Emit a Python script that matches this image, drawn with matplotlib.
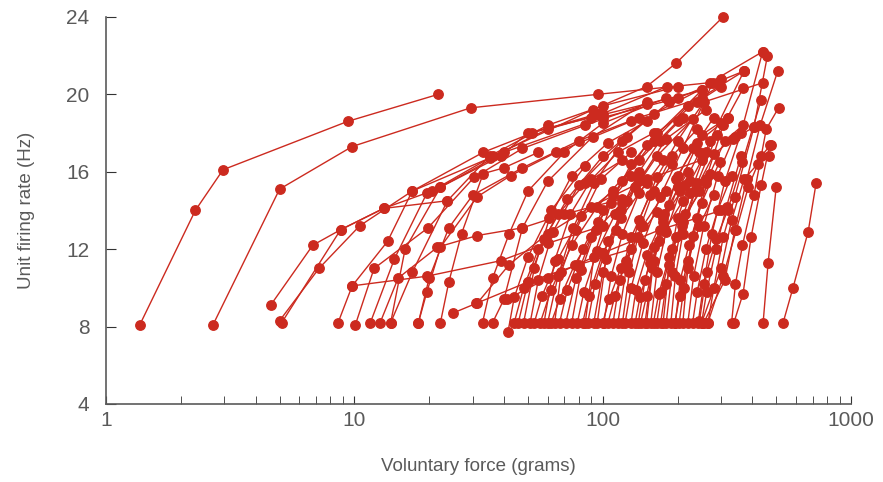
import matplotlib
matplotlib.use('Agg')
import matplotlib.pyplot as plt
from matplotlib.ticker import LogLocator, NullFormatter

# each motor unit: voluntary force (g) at each recorded point, and its firing rate (Hz)
forces = [
    [1.37, 2.29, 2.96, 9.4, 21.8],
    [2.7, 5.0, 9.8, 29.4, 96, 270, 440],
    [4.6, 6.8, 8.8, 13.1, 23.7],
    [5.0, 7.2, 10.5, 17.1, 33, 52, 96],
    [5.1, 8.8, 13.1, 20.5, 36, 91, 150, 197, 305],
    [8.6, 9.8, 13.6, 17.1, 35, 60, 100, 181],
    [10.1, 12.0, 19.8, 30.3, 47.5, 85, 150],
    [11.6, 14.5, 19.6, 22.2, 38.8, 50, 90, 250],
    [12.7, 15.0, 21.6, 31.2, 47.5, 70, 120],
    [14.0, 17.1, 23.7, 35, 60, 100, 200],
    [9.8, 19.6, 38.8, 60, 100],
    [18.1, 19.6, 22.2, 31.2, 42.6, 65, 130],
    [22.2, 24, 27, 33, 40, 55],
    [25, 31, 50, 80, 130],
    [32.8, 36, 42, 50, 70, 100, 180],
    [36, 40, 47.5, 60, 91, 150],
    [41.5, 44, 50, 62, 85],
    [45.7, 50, 58, 72, 100, 160, 300],
    [51, 55, 63, 80, 120],
    [56, 62, 75, 95, 140, 200],
    [64, 68, 78, 98, 130],
    [71, 78, 90, 110, 150, 250],
    [79, 84, 95, 112, 140],
    [87, 93, 105, 125, 165, 230],
    [101, 108, 120, 140, 175],
    [123, 130, 145, 170, 210, 277],
    [139, 148, 160, 185, 220],
    [142, 150, 168, 200, 250, 318],
    [156, 165, 180, 205, 245],
    [171, 180, 198, 225, 270, 370],
    [188, 196, 210, 240, 288],
    [203, 212, 230, 260, 305, 367],
    [242, 255, 275, 310, 360, 440],
    [265, 280, 305, 340, 406, 460],
    [337, 367, 395, 434, 470],
    [442, 463, 499],
    [532, 583, 671, 722],
    [330, 342, 365, 406, 455, 510],
    [245, 262, 286, 318, 365, 434],
    [48, 53, 61, 75, 105, 150],
    [53, 57, 66, 82, 110],
    [60, 66, 76, 92, 125, 185],
    [67, 72, 83, 100, 130],
    [75, 82, 96, 120, 160, 220, 370],
    [83, 88, 100, 118, 150],
    [92, 100, 113, 135, 180, 260],
    [110, 117, 130, 155, 190],
    [115, 125, 140, 165, 200, 255, 442],
    [130, 136, 150, 175, 215],
    [148, 158, 175, 200, 240, 300],
    [165, 172, 190, 215, 260],
    [180, 190, 208, 235, 280, 340],
    [196, 205, 222, 250, 295],
    [220, 232, 255, 290, 335, 406],
    [250, 262, 285, 315, 360],
    [265, 305, 345, 385, 434, 475],
    [250, 300, 330, 370, 420, 465],
    [41, 60, 100, 170, 300],
    [31.2, 42, 60, 90, 150, 250],
    [18.1, 20, 24, 30, 47.5, 80, 140, 250],
    [14.0, 16, 22.2, 40, 100, 200, 370],
    [255, 310, 340, 380, 430, 506],
    [95, 103, 118, 140, 170, 210],
    [105, 112, 124, 145, 180],
    [120, 128, 142, 160, 190, 240],
    [135, 141, 155, 178, 210],
    [150, 160, 176, 198, 230, 280],
    [160, 168, 185, 210, 245],
    [175, 185, 200, 225, 260, 318],
    [195, 204, 220, 245, 280],
    [210, 220, 240, 270, 310, 367],
    [230, 240, 260, 290, 330],
    [58, 64, 74, 90, 115, 160],
    [62, 67, 77, 94, 120],
    [85, 92, 108, 130, 165, 240, 300],
    [100, 106, 118, 138, 165],
    [44, 48, 55, 66, 85, 120],
]
rates = [
    [8.1, 14.0, 16.1, 18.6, 20.0],
    [8.1, 15.1, 17.3, 19.3, 20.0, 20.6, 22.2],
    [9.1, 12.2, 13.0, 14.1, 14.5],
    [8.3, 11.0, 13.2, 15.0, 17.0, 18.0, 19.0],
    [8.2, 13.0, 14.1, 15.0, 16.8, 19.2, 20.4, 21.6, 24.0],
    [8.2, 10.1, 12.4, 15.0, 16.7, 18.2, 19.0, 20.4],
    [8.1, 11.0, 13.1, 15.7, 17.2, 18.4, 19.5],
    [8.2, 11.5, 14.9, 15.2, 16.8, 18.0, 18.8, 20.2],
    [8.2, 10.5, 12.1, 12.7, 13.1, 13.8, 14.6],
    [8.2, 10.8, 14.5, 16.8, 18.4, 19.4, 20.4],
    [10.1, 10.6, 11.4, 12.3, 13.2],
    [8.2, 9.8, 12.1, 14.7, 15.8, 17.0, 18.6],
    [8.2, 10.3, 12.8, 15.9, 16.2, 17.0],
    [8.7, 9.2, 10.3, 11.2, 12.0],
    [8.2, 10.5, 12.8, 15.0, 17.0, 18.5, 19.8],
    [8.2, 9.4, 13.1, 15.5, 17.8, 19.6],
    [7.7, 9.5, 11.6, 14.0, 16.3],
    [8.2, 10.3, 12.5, 14.6, 16.8, 19.0, 20.8],
    [8.2, 10.4, 12.9, 15.3, 17.6],
    [8.2, 9.9, 12.2, 14.2, 16.6, 18.6],
    [8.2, 10.8, 13.0, 15.6, 17.0],
    [8.2, 10.5, 12.6, 14.8, 17.4, 20.2],
    [8.2, 9.8, 11.9, 13.8, 15.5],
    [8.2, 10.2, 12.4, 14.5, 16.8, 18.7],
    [8.2, 10.6, 12.8, 14.9, 16.6],
    [8.2, 10.0, 12.3, 14.7, 17.2, 20.6],
    [8.2, 10.4, 12.1, 14.3, 16.0],
    [8.2, 9.6, 12.4, 15.2, 17.9, 18.8],
    [8.2, 10.8, 12.9, 15.0, 17.0],
    [8.2, 10.2, 12.6, 14.9, 17.6, 21.2],
    [8.2, 10.6, 12.8, 15.4, 17.9],
    [8.2, 10.0, 12.7, 15.6, 18.4, 20.3],
    [8.2, 10.2, 12.8, 15.5, 18.0, 22.2],
    [8.2, 10.0, 12.6, 14.7, 18.3, 22.0],
    [8.2, 9.7, 12.6, 15.3, 17.4],
    [8.2, 11.3, 15.2],
    [8.2, 10.0, 12.9, 15.4],
    [8.2, 10.2, 12.2, 14.8, 18.2, 19.3],
    [8.3, 10.8, 12.5, 14.0, 16.5, 19.7],
    [8.2, 11.0, 13.6, 15.8, 17.5, 18.6],
    [8.2, 9.6, 11.5, 13.7, 15.0],
    [8.2, 10.6, 13.1, 15.4, 17.8, 19.6],
    [8.2, 9.9, 12.0, 14.0, 15.8],
    [8.2, 10.9, 13.4, 15.5, 17.6, 19.4, 21.2],
    [8.2, 9.6, 11.8, 13.6, 15.4],
    [8.2, 10.8, 13.0, 15.2, 17.7, 19.2],
    [8.2, 10.4, 12.6, 14.8, 16.4],
    [8.2, 11.2, 13.5, 15.7, 17.6, 19.6, 20.6],
    [8.2, 9.9, 11.7, 13.6, 15.3],
    [8.2, 11.0, 13.4, 15.8, 17.5, 18.5],
    [8.2, 9.8, 12.0, 13.8, 15.4],
    [8.2, 10.8, 13.2, 15.0, 16.9, 17.8],
    [8.2, 10.4, 12.2, 14.4, 16.5],
    [8.2, 10.6, 13.2, 15.8, 17.7, 18.3],
    [8.2, 9.8, 12.0, 14.2, 16.8],
    [8.2, 10.6, 13.0, 15.2, 16.8, 17.4],
    [8.2, 11.0, 13.5, 15.6, 16.4, 16.8],
    [9.4, 10.5, 11.8, 13.0, 14.0],
    [9.2, 11.2, 12.8, 14.2, 15.6, 16.6],
    [8.2, 10.5, 13.1, 14.8, 16.2, 17.6, 18.8, 19.8],
    [8.2, 12.0, 15.2, 17.0, 18.8, 19.8, 21.2],
    [8.2, 10.4, 13.0, 15.6, 18.4, 21.2],
    [8.2, 11.5, 14.0, 16.0, 17.6, 18.8],
    [8.2, 9.6, 11.4, 13.2, 15.0],
    [8.2, 10.8, 13.2, 15.0, 16.8, 18.2],
    [8.2, 9.5, 11.3, 13.0, 14.5],
    [8.2, 11.4, 13.8, 15.6, 17.2, 18.8],
    [8.2, 9.7, 11.6, 13.4, 15.0],
    [8.2, 11.2, 13.6, 15.5, 17.0, 18.8],
    [8.2, 9.6, 11.4, 13.2, 14.8],
    [8.2, 11.0, 13.6, 15.9, 17.6, 18.4],
    [8.2, 9.8, 12.0, 14.0, 15.8],
    [8.2, 11.4, 13.8, 15.6, 17.0, 18.0],
    [8.2, 9.4, 11.2, 13.0, 14.4],
    [8.2, 11.6, 14.4, 16.4, 18.0, 19.6, 20.4],
    [8.2, 9.4, 11.0, 12.6, 13.9],
    [8.2, 10.0, 12.0, 13.8, 15.4, 16.6],
]

y_ticks = [4, 8, 12, 16, 20, 24]
x_ticks = [1, 10, 100, 1000]
x_tick_labels = ['1', '10', '100', '1000']

red = '#cc2a1f'
grey = '#5a5a5a'
plt.rcParams['font.family'] = ['Liberation Sans', 'DejaVu Sans']

fig = plt.figure(figsize=(8.83, 4.82), dpi=100)
ax = fig.add_axes([0.120, 0.162, 0.844, 0.803])

for f, r in zip(forces, rates):
    ax.plot(f, r, '-o', color=red, lw=1.0, ms=6.8, mec=red, clip_on=False)

ax.set_xscale('log')
ax.set_xlim(1, 1000)
ax.set_ylim(4, 24)
ax.set_yticks(y_ticks)
ax.set_xticks(x_ticks)
ax.set_xticklabels(x_tick_labels)
ax.xaxis.set_minor_locator(LogLocator(base=10, subs=range(2, 10)))
ax.xaxis.set_minor_formatter(NullFormatter())

for s in ['top', 'right']:
    ax.spines[s].set_visible(False)
for s in ['left', 'bottom']:
    ax.spines[s].set_color(grey)
    ax.spines[s].set_linewidth(1.2)

ax.tick_params(axis='both', which='both', direction='in', color='#333333',
               labelcolor=grey, labelsize=15)
ax.tick_params(axis='x', which='both', length=6, pad=5)
ax.tick_params(axis='y', length=7, pad=12)

ax.set_xlabel('Voluntary force (grams)', color=grey, fontsize=13.5, labelpad=20)
ax.set_ylabel('Unit firing rate (Hz)', color=grey, fontsize=13.5, labelpad=22)

fig.savefig('out.png', dpi=100)
